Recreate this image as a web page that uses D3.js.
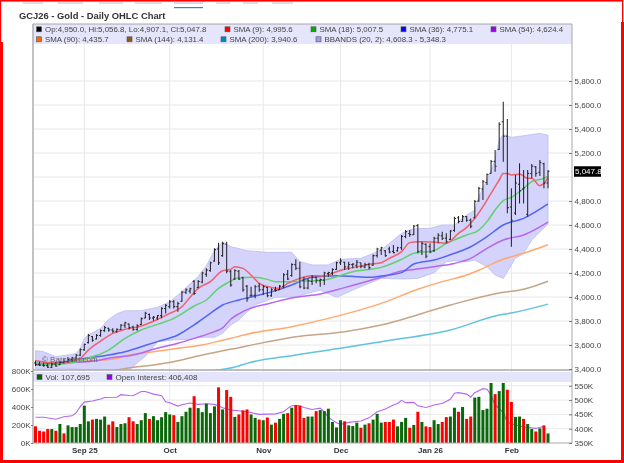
<!DOCTYPE html>
<html><head><meta charset="utf-8">
<script src="https://cdn.jsdelivr.net/npm/d3@7"></script>
<style>
html,body{margin:0;padding:0;background:#fff;overflow:hidden}
svg{display:block;filter:blur(0.3px)}
text{font-family:"Liberation Sans",Arial,sans-serif}
</style></head><body>
<script>
// Daily OHLC bars, one row per session: open, high, low, close
const ohlc=[
[3450,3469,3425,3440],[3440,3461,3425,3432],[3432,3452,3419,3428],[3428,3447,3408,3415],[3415,3452,3408,3440],
[3440,3461,3419,3425],[3436,3469,3433,3455],[3455,3488,3447,3462],[3462,3497,3452,3480],[3480,3502,3458,3492],
[3492,3525,3469,3515],[3515,3572,3508,3560],[3560,3613,3552,3605],[3620,3691,3613,3680],[3670,3675,3627,3640],
[3650,3691,3647,3680],[3680,3730,3669,3720],[3720,3758,3711,3745],[3740,3744,3711,3725],[3725,3739,3702,3715],
[3715,3739,3702,3730],[3730,3775,3725,3765],[3765,3794,3739,3785],[3775,3780,3730,3745],[3750,3761,3719,3730],
[3730,3772,3719,3760],[3770,3830,3766,3820],[3825,3877,3822,3865],[3855,3863,3808,3825],[3825,3841,3802,3832],
[3825,3850,3808,3845],[3845,3914,3822,3905],[3905,3941,3863,3930],[3920,3975,3905,3960],[3960,3975,3905,3920],
[3920,3961,3877,3945],[3965,4052,3961,4040],[4040,4072,4025,4060],[4050,4078,4030,4068],[4130,4142,4017,4030],
[4080,4142,4072,4130],[4125,4211,4114,4200],[4190,4239,4169,4225],[4220,4294,4211,4285],[4300,4406,4294,4395],
[4400,4453,4267,4285],[4345,4461,4336,4445],[4440,4461,4197,4215],[4210,4225,4086,4100],[4150,4231,4142,4220],
[4215,4225,4142,4150],[4160,4169,4044,4060],[4090,4100,3961,3985],[4010,4086,4003,4015],[4015,4100,3989,4085],
[4090,4114,4044,4060],[4060,4100,4017,4085],[4080,4086,3997,4010],[4010,4072,4003,4060],[4060,4086,4044,4055],
[4060,4100,4058,4090],[4090,4197,4072,4185],[4190,4225,4142,4150],[4180,4281,4169,4270],[4270,4314,4225,4240],
[4240,4294,4072,4085],[4140,4169,4064,4075],[4075,4155,4064,4135],[4130,4183,4100,4165],[4165,4169,4114,4140],
[4135,4155,4086,4145],[4140,4211,4100,4200],[4195,4211,4169,4205],[4200,4239,4183,4230],[4230,4294,4225,4285],
[4285,4322,4267,4300],[4290,4294,4225,4250],[4250,4294,4225,4270],[4270,4281,4239,4275],[4265,4308,4239,4290],
[4285,4286,4239,4255],[4250,4286,4239,4270],[4270,4286,4231,4245],[4265,4355,4260,4345],[4345,4410,4330,4400],
[4390,4419,4350,4410],[4385,4392,4336,4345],[4400,4419,4364,4375],[4380,4433,4364,4370],[4385,4419,4378,4410],
[4410,4517,4392,4505],[4505,4558,4489,4545],[4530,4558,4503,4520],[4520,4600,4517,4590],[4595,4608,4364,4380],
[4385,4461,4350,4445],[4440,4447,4322,4340],[4420,4447,4364,4375],[4385,4503,4378,4490],[4490,4531,4447,4515],
[4510,4544,4475,4490],[4490,4531,4447,4460],[4480,4558,4475,4550],[4555,4669,4544,4655],[4660,4675,4614,4630],
[4630,4683,4628,4670],[4670,4675,4628,4640],[4640,4655,4572,4590],[4660,4808,4655,4795],[4800,4919,4794,4905],
[4900,4975,4808,4960],[4955,5030,4933,5020],[5030,5142,5030,5130],[5130,5225,5044,5090],[5230,5456,5225,5440],
[5460,5628,5128,5340],[5340,5483,4697,4745],[4750,4906,4419,4640],[4700,5017,4683,4950],[4940,5114,4780,4885],
[4900,5058,4780,4910],[4690,5058,4669,5030],[5030,5108,4989,5090],[5085,5092,5003,5030],[5040,5142,5008,5120],
[5110,5119,4906,4950],[4950,5056.8,4907.1,5047.8]];

// Volume in thousands, one per session
const volume=[185,136,128,155,155,136,211,106,196,177,177,211,415,241,260,268,260,294,204,241,177,211,219,287,241,211,253,332,268,298,253,287,343,317,309,234,298,347,392,520,388,343,437,332,407,618,373,588,513,290,317,362,373,317,279,260,253,283,204,226,268,324,332,392,422,411,279,294,294,354,366,354,381,234,173,253,241,196,188,226,170,204,219,260,324,226,234,234,260,185,234,279,170,200,347,234,185,177,253,211,234,287,294,392,347,400,268,294,505,513,366,381,667,543,577,667,592,456,290,294,268,211,155,128,162,196,106];
// Volume bar colour by session: G = up, R = down (ten sessions per group)
const volumeDirection=("RRRRGRGRGG GGGGRGGGRR GGGRRGGGRG GGGGRGGGGR GGGGGRGRRG RRRGGRGRGR GGRGRRRGGR GGGGGGRGGG RGRGGGRRRG GGRGRGRRGG RRGGRGRRGG GGGRGGRRGG RGGRGRG").replace(/ /g,"");

// Open interest in thousands, read at these session numbers
const oiBars=[0,2,5,7,9,10,11,12,14,16,17,20,21,23,24,26,27,29,31,32,33,35,36,38,40,42,44,46,48,50,52,55,57,59,61,62,63,65,66,68,70,71,72,73,74,75,77,80,82,84,86,88,89,90,91,93,94,96,98,100,102,103,104,106,107,108,110,111,112,113,115,116,118,120,123,125];
const openInterest=[440,440,433,442,445,456,477,493,497,504,509,510,519,516,515,530,530,521,515,494,491,479,484,490,485,487,485,473,465,463,459,450,451,452,459,471,480,481,474,467,472,459,440,430,421,415,422,427,438,459,469,483,488,499,491,492,480,474,483,488,503,524,526,521,510,526,540,538,517,483,456,422,413,406,401,408];

// Moving averages read at these session numbers
const sma9Bars=[0,3,6,9,11,13,16,19,22,26,30,33,36,38,40,43,46,48,49,51,53,55,58,60,62,65,68,71,74,76,80,82,85,87,90,92,94,96,99,101,104,106,108,110,112,114,115,116,117,119,121,122,124,125,126];
const sma9=[3469,3455,3447,3466,3488,3558,3633,3697,3730,3758,3813,3863,3919,3997,4072,4128,4219,4231,4253,4239,4183,4114,4080,4072,4114,4155,4178,4175,4211,4231,4258,4272,4286,4322,4378,4453,4461,4461,4455,4447,4530,4580,4655,4753,4864,4975,5030,5030,5017,5025,4989,4989,4928,4947,4995.6];
const sma18Bars=[0,3,8,11,14,18,22,26,30,34,36,39,42,45,47,50,53,57,59,62,67,71,74,78,81,85,90,93,98,101,106,109,111,113,115,117,120,122,125,126];
const sma18=[3452,3433,3447,3469,3502,3558,3655,3725,3772,3822,3860,3925,3975,4072,4114,4161,4164,4147,4128,4128,4133,4142,4169,4211,4225,4247,4314,4364,4386,4447,4517,4558,4628,4725,4803,4830,4905,4961,4989,5007.5];
const sma36Bars=[0,7,12,18,22,26,30,35,39,43,46,50,54,59,63,68,74,79,82,85,90,93,98,103,107,111,115,120,126];
const sma36=[3433,3461,3488,3517,3544,3586,3628,3683,3767,3864,3933,3975,4008,4053,4100,4164,4178,4169,4164,4175,4203,4275,4308,4364,4419,4503,4600,4655,4775.1];
const sma54Bars=[0,8,16,18,24,29,35,39,44,46,48,50,52,57,64,70,76,85,90,93,98,103,107,111,115,120,126];
const sma54=[3447,3452,3475,3489,3516,3564,3614,3655,3711,3742,3815,3860,3895,3942,3997,4025,4078,4164,4216,4230,4253,4280,4322,4405,4475,4517,4624.4];
const sma90Bars=[0,10,20,22,29,35,41,46,50,52,63,72,85,94,100,106,110,115,120,126];
const sma90=[3441,3461,3488,3508,3544,3572,3600,3640,3672,3690,3753,3822,3947,4064,4128,4183,4239,4314,4364,4435.7];
const sma144Bars=[18,25,29,35,41,46,50,52,64,76,85,102,114,120,126];
const sma144=[3380,3419,3433,3469,3517,3553,3578,3592,3669,3711,3767,3933,4033,4064,4131.4];
const sma200Bars=[42,45,50,52,64,75,85,102,114,117,126];
const sma200=[3380,3392,3425,3447,3517,3572,3628,3725,3850,3867,3940.6];

// Bollinger band edges read at these session numbers
const upperBars=[0,2,5,8,10,11,12,13,16,18,20,22,24,26,30,33,36,38,40,42,44,46,48,52,57,63,65,68,72,75,80,85,90,92,94,97,100,103,106,108,109,111,113,114,115,117,120,124,126];
const upperBand=[3553,3544,3503,3517,3530,3570,3655,3683,3739,3814,3860,3886,3886,3886,3914,3961,4044,4110,4170,4260,4390,4459,4420,4386,4372,4372,4295,4267,4267,4314,4322,4392,4530,4560,4572,4572,4600,4600,4683,4725,4836,4975,5142,5308,5355,5330,5344,5364,5348.3];
const lowerBars=[0,4,8,11,14,18,22,23,26,27,29,30,34,38,40,44,46,48,50,52,54,59,64,70,74,79,85,90,94,98,101,103,106,108,111,113,115,116,118,120,122,126];
const lowerBand=[3405,3405,3405,3395,3370,3330,3360,3392,3480,3505,3586,3628,3642,3647,3664,3664,3697,3767,3808,3875,3935,3997,4003,4058,3997,4072,4156,4150,4155,4203,4294,4303,4294,4308,4253,4183,4155,4211,4322,4364,4475,4608.3];

const priceGrid=[3600,3800,4000,4200,4400,4600,4800,5000,5200,5400,5600,5800];
const priceTicks=[3400,3600,3800,4000,4200,4400,4600,4800,5200,5400,5600,5800];
const volumeTicks=[0,200,400,600,800];
const oiTicks=[350,400,450,500,550];
const monthBars=[12,33,56,75,97,117];
const monthLabels=["Sep 25","Oct","Nov","Dec","Jan 26","Feb"];
const lastPrice=5047.8;
const legendPrice=[
 [{c:"#000",s:"Op:4,950.0, Hi:5,056.8, Lo:4,907.1, Cl:5,047.8",x:36},{c:"#ff0000",s:"SMA (9): 4,995.6",x:224.5},{c:"#00b000",s:"SMA (18): 5,007.5",x:310.5},{c:"#0000ff",s:"SMA (36): 4,775.1",x:400.5},{c:"#9900ee",s:"SMA (54): 4,624.4",x:490.5}],
 [{c:"#ff6600",s:"SMA (90): 4,435.7",x:36},{c:"#8b5a20",s:"SMA (144): 4,131.4",x:126.5},{c:"#0088cc",s:"SMA (200): 3,940.6",x:220.5},{c:"#9c9cf0",s:"BBANDS (20, 2): 4,608.3 - 5,348.3",x:315.5}]];
const legendVolume=[{c:"#006400",s:"Vol: 107,695",x:37},{c:"#9900ee",s:"Open Interest: 406,408",x:107}];

const W=624,H=463,L=33,R=572,T=24,PB=370,VT=371,VB=443;
const svg=d3.select("body").append("svg").attr("width",W).attr("height",H);
const x=d3.scaleLinear().domain([0,126]).range([35.5,548]);
const y=d3.scaleLinear().domain([3400,5800]).range([369,81]);
const yVol=d3.scaleLinear().domain([0,800]).range([443,371]);
const yOi=d3.scaleLinear().domain([350,550]).range([443,385.8]);

const defs=svg.append("defs");
defs.append("clipPath").attr("id","pc").append("rect").attr("x",L).attr("y",T).attr("width",R-L).attr("height",PB-T);

// gridlines
const grid=svg.append("g").attr("stroke","#e8e8e8").attr("stroke-width",1);
grid.selectAll(".h").data(priceGrid).join("line").attr("x1",L).attr("x2",R).attr("y1",d=>y(d)).attr("y2",d=>y(d));
grid.selectAll(".v").data(monthBars).join("line").attr("x1",d=>x(d)).attr("x2",d=>x(d)).attr("y1",T).attr("y2",VB);
grid.selectAll(".o").data(oiTicks.slice(1)).join("line").attr("x1",L).attr("x2",R).attr("y1",d=>yOi(d)).attr("y2",d=>yOi(d));

// price panel
const price=svg.append("g").attr("clip-path","url(#pc)");
const pts=(bars,vals)=>bars.map((b,k)=>[x(b),y(vals[k])]);
const ln=d3.line();
price.append("path")
 .attr("d",ln(pts(upperBars,upperBand).concat(pts(lowerBars,lowerBand).reverse()))+"Z")
 .attr("fill","#d3d3fb").attr("stroke","#bcbcf4").attr("stroke-width",0.8);
const series=[[sma200Bars,sma200,"#62c2de"],[sma144Bars,sma144,"#c6a485"],[sma90Bars,sma90,"#ffa970"],[sma54Bars,sma54,"#b566f2"],[sma36Bars,sma36,"#5266f2"],[sma18Bars,sma18,"#62d06c"],[sma9Bars,sma9,"#f2606a"]];
const curved=d3.line().curve(d3.curveMonotoneX);
series.forEach(s=>price.append("path").attr("d",curved(pts(s[0],s[1]))).attr("fill","none").attr("stroke",s[2]).attr("stroke-width",1.5));

const bars=price.append("g").attr("stroke","#262626").attr("stroke-width",1.05).attr("fill","none");
const bg=bars.selectAll("g").data(ohlc).join("g");
bg.append("line").attr("x1",(d,i)=>x(i)).attr("x2",(d,i)=>x(i)).attr("y1",d=>y(d[1])).attr("y2",d=>y(d[2]));
bg.append("line").attr("x1",(d,i)=>x(i)-1.5).attr("x2",(d,i)=>x(i)).attr("y1",d=>y(d[0])).attr("y2",d=>y(d[0]));
bg.append("line").attr("x1",(d,i)=>x(i)).attr("x2",(d,i)=>x(i)+1.5).attr("y1",d=>y(d[3])).attr("y2",d=>y(d[3]));
price.append("text").attr("x",42).attr("y",362).attr("font-size",8).attr("fill","#666").text("© Barchart.com");

// price legend
svg.append("rect").attr("x",L).attr("y",T).attr("width",R-L).attr("height",20).attr("fill","#e4e4fb").attr("fill-opacity",0.95);
legendPrice.forEach((row,r)=>row.forEach(it=>{
  const ly=29.3+r*10;
  svg.append("rect").attr("x",it.x+0.5).attr("y",ly-2.5).attr("width",5).attr("height",5).attr("fill",it.c).attr("stroke","#555").attr("stroke-width",0.6);
  svg.append("text").attr("x",it.x+9).attr("y",ly+2.8).attr("font-size",7.9).attr("fill","#444").text(it.s);
}));

// volume panel
svg.append("path").attr("d",d3.line().curve(d3.curveLinear)(oiBars.map((b,k)=>[x(b),yOi(openInterest[k])]))).attr("fill","none").attr("stroke","#b566f2").attr("stroke-width",1.1);
svg.append("g").selectAll("rect").data(volume).join("rect")
 .attr("x",(d,i)=>x(i)-1.5).attr("width",3).attr("y",d=>yVol(d)).attr("height",d=>VB-yVol(d))
 .attr("fill",(d,i)=>volumeDirection[i]==="G"?"#0a680a":"#ff0000");
svg.append("rect").attr("x",L).attr("y",VT+1).attr("width",R-L).attr("height",10).attr("fill","#e4e4fb");
legendVolume.forEach(it=>{
  svg.append("rect").attr("x",it.x).attr("y",374.5).attr("width",5).attr("height",5).attr("fill",it.c).attr("stroke","#555").attr("stroke-width",0.6);
  svg.append("text").attr("x",it.x+8.5).attr("y",380).attr("font-size",8).attr("fill","#444").text(it.s);
});

// frame of the panels
const bd=svg.append("g").attr("stroke","#a8a8a8").attr("fill","none");
bd.append("line").attr("x1",L).attr("x2",L).attr("y1",T).attr("y2",VB).attr("stroke-width",1.4);
bd.append("line").attr("x1",R).attr("x2",R).attr("y1",T).attr("y2",VB);
bd.append("line").attr("x1",L).attr("x2",R).attr("y1",T).attr("y2",T);
bd.append("line").attr("x1",L).attr("x2",R).attr("y1",PB).attr("y2",PB).attr("stroke-width",1.4);
bd.append("line").attr("x1",L).attr("x2",R).attr("y1",VB).attr("y2",VB);

// axes
const styleAxis=g=>{g.select(".domain").remove();g.selectAll("line").attr("stroke","#777");g.selectAll("text").attr("fill","#444").attr("font-size",8).attr("font-family",'"Liberation Sans",Arial,sans-serif');};
svg.append("g").attr("transform",`translate(${R},0)`).call(d3.axisRight(y).tickValues(priceTicks).tickSize(-3).tickPadding(2.5).tickFormat(d3.format(",.1f"))).call(styleAxis);
svg.append("g").attr("transform",`translate(${R},0)`).call(d3.axisRight(yOi).tickValues(oiTicks).tickSize(-3).tickPadding(2.5).tickFormat(d=>d+"K")).call(styleAxis);
svg.append("g").attr("transform",`translate(${L},0)`).call(d3.axisLeft(yVol).tickValues(volumeTicks).tickSize(2).tickPadding(0.5).tickFormat(d=>d+"K")).call(styleAxis);
svg.append("g").attr("transform",`translate(0,${VB})`).call(d3.axisBottom(x).tickValues(monthBars).tickSize(0).tickPadding(4).tickFormat((d,i)=>monthLabels[i])).call(styleAxis).call(g=>g.selectAll("text").attr("font-weight","bold").attr("fill","#333"));

// last price tag
svg.append("rect").attr("x",574).attr("y",y(lastPrice)-5).attr("width",27).attr("height",10.5).attr("fill","#000");
svg.append("text").attr("x",575).attr("y",y(lastPrice)+3).attr("font-size",8).attr("fill","#fff").text(d3.format(",.1f")(lastPrice));

// title
svg.append("text").attr("x",19).attr("y",18.5).attr("font-size",9.4).attr("font-weight","bold").attr("fill","#333").text("GCJ26 - Gold - Daily OHLC Chart");

// cropped page tab strip and red page border
[[23,20],[58,25],[99,24],[135,27],[216,14],[243,15],[272,21]].forEach(t=>
  svg.append("rect").attr("x",t[0]).attr("y",2.4).attr("width",t[1]).attr("height",1.2).attr("fill","#c8c8c8"));
svg.append("rect").attr("x",174).attr("y",2.4).attr("width",29).attr("height",1.2).attr("fill","#a9c6e6");
svg.append("rect").attr("x",174).attr("y",7).attr("width",29).attr("height",1.2).attr("fill","#3b7fc4");
const red="#ff0000";
[[0,0,622,1.6],[0,460,624,3],[0,0,1.2,463],[0,42,3,421],[622,0,1.2,24],[621,22,3,441]].forEach(r=>
  svg.append("rect").attr("x",r[0]).attr("y",r[1]).attr("width",r[2]).attr("height",r[3]).attr("fill",red));
</script>
</body></html>
